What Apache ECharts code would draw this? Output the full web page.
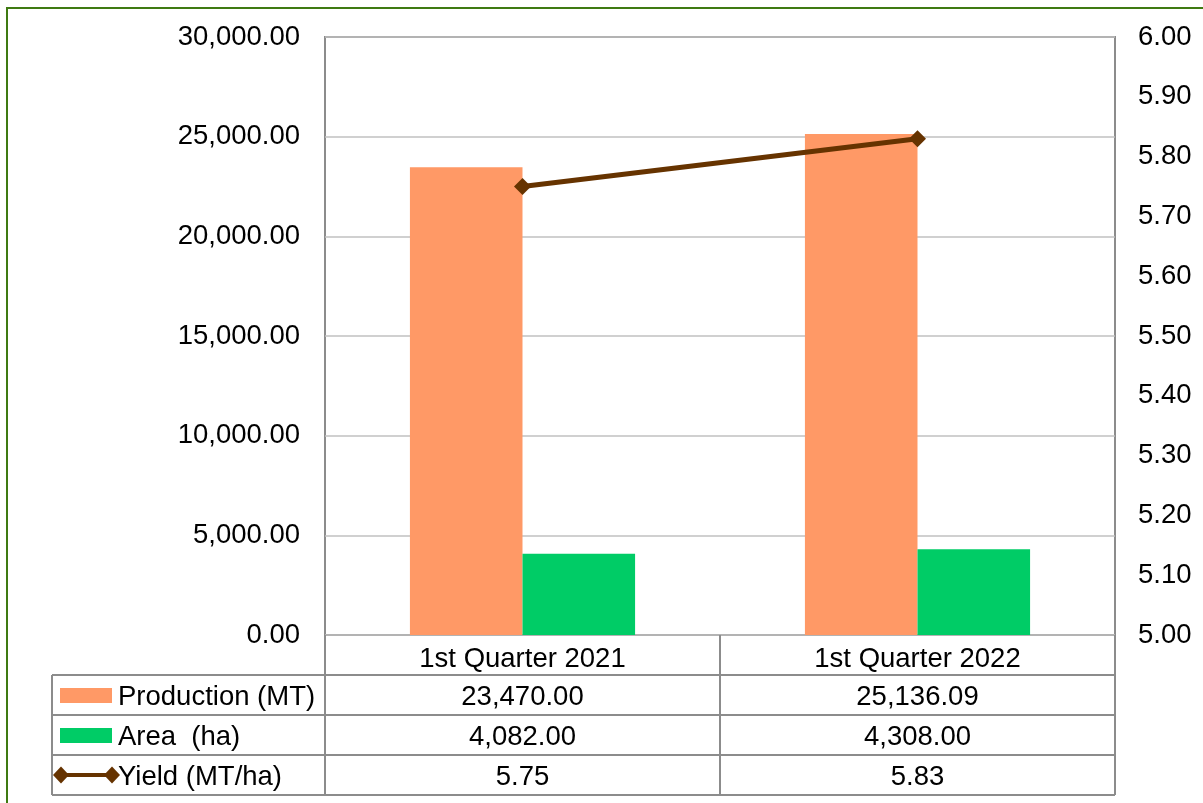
<!DOCTYPE html>
<html>
<head>
<meta charset="utf-8">
<script src="https://cdn.jsdelivr.net/npm/echarts@6/dist/echarts.min.js"></script>
<style>
html,body{margin:0;padding:0;background:#fff;}
#chart{width:1203px;height:803px;}
</style>
</head>
<body>
<div id="chart"></div>
<script>
// ---- data ----
const categories = ['1st Quarter 2021', '1st Quarter 2022'];
const seriesNames = ['Production (MT)', 'Area  (ha)', 'Yield (MT/ha)'];
const production = [23470.00, 25136.09];
const area = [4082.00, 4308.00];
const yieldValues = [5.75, 5.83];
const leftAxisTicks = { min: 0, max: 30000, interval: 5000 };
const rightAxisTicks = { min: 5.0, max: 6.0, interval: 0.1 };

// ---- style ----
const FONT = '"Liberation Sans", Arial, sans-serif';
const FS = 27.5;
const colors = ['#FF9966', '#00CC66', '#663300'];
const frameColor = '#8c8c8c';
const gridL = 325, gridR = 88, gridT = 37, gridB = 168;
const rowH = 40;
const tableLeft = 52;
const textDrop = 2; // small downward shift of text, as in the reference

function fmt(v) {
  return Number(v).toLocaleString('en-US', { minimumFractionDigits: 2, maximumFractionDigits: 2 });
}

const chart = echarts.init(document.getElementById('chart'), null, { renderer: 'canvas' });

chart.setOption({
  animation: false,
  backgroundColor: '#fff',
  textStyle: { fontFamily: FONT },
  grid: {
    left: gridL, right: gridR, top: gridT, bottom: gridB,
    show: true, borderColor: frameColor, borderWidth: 2,
    containLabel: false, outerBoundsMode: 'none'
  },
  xAxis: {
    type: 'category',
    data: categories,
    axisLine: { show: false },
    axisTick: { show: false },
    axisLabel: {
      color: '#000', fontFamily: FONT, fontSize: FS,
      margin: rowH / 2 + 2 + textDrop, verticalAlign: 'middle', interval: 0
    },
    splitLine: { show: false }
  },
  yAxis: [
    {
      type: 'value',
      min: leftAxisTicks.min, max: leftAxisTicks.max, interval: leftAxisTicks.interval,
      axisLine: { show: false }, axisTick: { show: false },
      axisLabel: { color: '#000', fontFamily: FONT, fontSize: FS, margin: 25, formatter: fmt,
        padding: [textDrop * 2, 0, 0, 0] },
      splitLine: { show: true, lineStyle: { color: '#c0c0c0', width: 1.5 } }
    },
    {
      type: 'value', position: 'right',
      min: rightAxisTicks.min, max: rightAxisTicks.max, interval: rightAxisTicks.interval,
      axisLine: { show: false }, axisTick: { show: false },
      axisLabel: { color: '#000', fontFamily: FONT, fontSize: FS, margin: 23, formatter: v => Number(v).toFixed(2),
        padding: [textDrop * 2, 0, 0, 0] },
      splitLine: { show: false }
    }
  ],
  series: [
    {
      name: seriesNames[0], type: 'bar', data: production,
      itemStyle: { color: colors[0] },
      barGap: '0%', barCategoryGap: '43%'
    },
    {
      name: seriesNames[1], type: 'bar', data: area,
      itemStyle: { color: colors[1] }
    },
    {
      name: seriesNames[2], type: 'line', yAxisIndex: 1, data: yieldValues,
      lineStyle: { color: colors[2], width: 5 },
      itemStyle: { color: colors[2] },
      symbol: 'diamond', symbolSize: 17, z: 5
    }
  ]
});

// ---- data table drawn beneath the plot, positioned from the axes ----
const W = chart.getWidth(), H = chart.getHeight();
const plotRight = W - gridR;
const yZero = chart.convertToPixel({ yAxisIndex: 0 }, leftAxisTicks.min);
const centers = categories.map(c => chart.convertToPixel({ xAxisIndex: 0 }, c));
const colW = centers.length > 1 ? centers[1] - centers[0] : (plotRight - gridL);
const colEdges = [gridL];
for (let i = 0; i < centers.length; i++) colEdges.push(centers[i] + colW / 2);

const lineStyle = { stroke: frameColor, lineWidth: 2 };
const g = [];
// outer green border
g.push({ type: 'rect', shape: { x: 7, y: 8, width: W + 10, height: H + 10 },
  style: { fill: null, stroke: '#3f7a12', lineWidth: 2 }, silent: true, z: 0 });

const nRows = seriesNames.length;
const tableBottom = yZero + rowH * (nRows + 1);
for (let r = 1; r <= nRows + 1; r++) {
  const y = yZero + rowH * r;
  g.push({ type: 'line', shape: { x1: tableLeft, y1: y, x2: plotRight, y2: y }, style: lineStyle, z: 10 });
}
g.push({ type: 'line', shape: { x1: tableLeft, y1: yZero + rowH, x2: tableLeft, y2: tableBottom }, style: lineStyle, z: 10 });
colEdges.forEach(x => {
  g.push({ type: 'line', shape: { x1: x, y1: yZero, x2: x, y2: tableBottom }, style: lineStyle, z: 10 });
});

const rowValues = [production, area, yieldValues];
const textBase = { fontFamily: FONT, fontSize: FS, fill: '#000' };
seriesNames.forEach((name, r) => {
  const cy = yZero + rowH * (r + 1) + rowH / 2;
  if (r < 2) {
    g.push({ type: 'rect', shape: { x: 60, y: cy - 7, width: 52, height: 15 }, style: { fill: colors[r] }, z: 11 });
  } else {
    g.push({ type: 'line', shape: { x1: 61, y1: cy, x2: 112, y2: cy }, style: { stroke: colors[2], lineWidth: 4 }, z: 11 });
    [61, 112].forEach(x => {
      g.push({ type: 'polygon', shape: { points: [[x, cy - 8.5], [x + 8, cy], [x, cy + 8.5], [x - 8, cy]] }, style: { fill: colors[2] }, z: 12 });
    });
  }
  g.push({ type: 'text', x: 118, y: cy + textDrop, style: Object.assign({ text: name, align: 'left', verticalAlign: 'middle' }, textBase), z: 12 });
  rowValues[r].forEach((v, c) => {
    g.push({ type: 'text', x: centers[c], y: cy + textDrop, style: Object.assign({ text: fmt(v), align: 'center', verticalAlign: 'middle' }, textBase), z: 12 });
  });
});

chart.setOption({ graphic: { elements: g } });
</script>
</body>
</html>
